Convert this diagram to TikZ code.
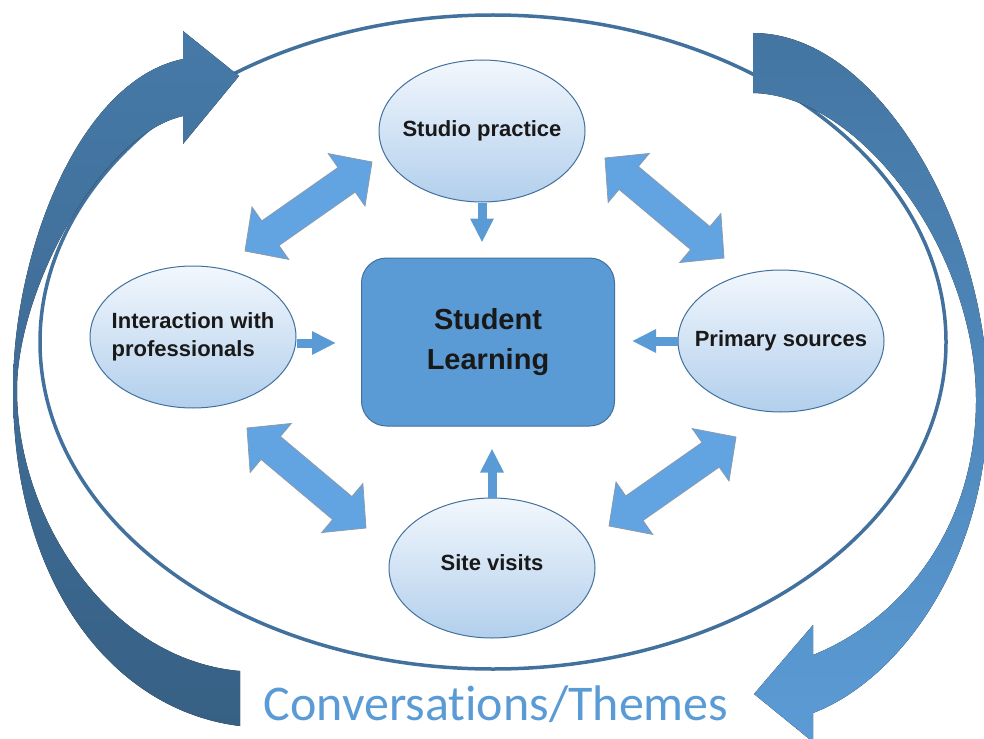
\documentclass[tikz,border=0pt]{standalone}
\usepackage{fontspec}
\usetikzlibrary{arrows.meta,calc,shapes.geometric}
\setmainfont{Liberation Sans}
\newfontfamily\themefont{Carlito}[Ligatures=NoCommon]
\definecolor{ringblue}{HTML}{41719C}
\definecolor{boxblue}{HTML}{5B9BD5}
\definecolor{wayblue}{HTML}{62A3E1}
\definecolor{wayedge}{HTML}{8A9BAE}
\definecolor{bubbletop}{HTML}{F2F7FD}
\definecolor{bubblebottom}{HTML}{B2CFEC}
\newcommand{\headLen}{31pt}
\newcommand{\headHalf}{32pt}
\newcommand{\shaftHalf}{15pt}
% block arrow with a head at both ends, tip to tip
\newcommand{\twoway}[2]{%
  \filldraw[twoway] (#1)
    -- ($(#1)!\headLen!(#2)!\headHalf!90:(#2)$)
    -- ($(#1)!\headLen!(#2)!\shaftHalf!90:(#2)$)
    -- ($(#2)!\headLen!(#1)!\shaftHalf!-90:(#1)$)
    -- ($(#2)!\headLen!(#1)!\headHalf!-90:(#1)$)
    -- (#2)
    -- ($(#2)!\headLen!(#1)!\headHalf!90:(#1)$)
    -- ($(#2)!\headLen!(#1)!\shaftHalf!90:(#1)$)
    -- ($(#1)!\headLen!(#2)!\shaftHalf!-90:(#2)$)
    -- ($(#1)!\headLen!(#2)!\headHalf!-90:(#2)$)
    -- cycle;}

\begin{document}
\begin{tikzpicture}[x=1pt,y=-1pt]
  \tikzset{bubble/.style={ellipse,draw=ringblue,line width=1pt,
      top color=bubbletop,bottom color=bubblebottom,
      minimum width=206pt,minimum height=142pt,inner xsep=-40pt,inner ysep=0pt,
      font=\fontsize{22}{28}\selectfont\bfseries,text=black!90},
    learnbox/.style={rectangle,rounded corners=25pt,draw=ringblue,line width=1pt,
      fill=boxblue,minimum width=253pt,minimum height=168pt,align=center,
      font=\fontsize{29}{40}\selectfont\bfseries,text=black!90},
    feed/.style={draw=boxblue,line width=9pt,-{Triangle[length=24pt,width=22pt]}},
    twoway/.style={fill=wayblue,draw=wayedge,line width=0.8pt,line join=miter},
    ring/.style={draw=ringblue,line width=3.5pt}}
  \useasboundingbox (0,0) rectangle (984,738);

  \draw[ring] (493,342) ellipse [x radius=453pt, y radius=327pt];

  % sweeping arrows round the outside
  \fill[top color=ringblue!80!boxblue,bottom color=ringblue!85!black]
    (240,726) .. controls (110,710) and (13,580) .. (13,390)
    .. controls (13,250) and (80,80) .. (183,59)
    -- (183,31) -- (239,76) -- (183,144) -- (183,116)
    .. controls (100,135) and (17,290) .. (17,390)
    .. controls (17,520) and (110,660) .. (240,671) -- cycle;
  \fill[top color=ringblue!90!boxblue,bottom color=boxblue]
    (753,33) .. controls (880,33) and (988,230) .. (988,400)
    .. controls (988,560) and (900,680) .. (813,713)
    -- (813,742) -- (754,694) -- (813,625) -- (813,655)
    .. controls (900,620) and (976,530) .. (976,400)
    .. controls (976,250) and (860,95) .. (753,93) -- cycle;

  \node[learnbox] (learn) at (488,342) {Student\\Learning};
  \node[bubble] (studio) at (482,131) {Studio practice};
  \node[bubble,align=left] (inter) at (193,337) {Interaction with\\professionals};
  \node[bubble] (prim) at (781,341) {Primary sources};
  \node[bubble,minimum height=140pt,text depth=10pt] (site) at (492,568) {Site visits};

  \draw[feed,shorten >=15pt] (studio) -- (studio |- learn.north);
  \draw[feed,shorten >=25pt] ([yshift=-6pt]inter.east) -- ([yshift=-6pt]inter.east -| learn.west);
  \draw[feed,shorten >=17pt] (prim.west) -- (prim.west -| learn.east);
  \draw[feed,shorten >=22pt] (site) -- (site |- learn.south);

  \coordinate (ul-a) at (245,251); \coordinate (ul-b) at (372,162);
  \coordinate (ur-a) at (605,158); \coordinate (ur-b) at (724,258);
  \coordinate (ll-a) at (247,428); \coordinate (ll-b) at (366,528);
  \coordinate (lr-a) at (609,526); \coordinate (lr-b) at (736,437);
  \twoway{ul-a}{ul-b}
  \twoway{ur-a}{ur-b}
  \twoway{ll-a}{ll-b}
  \twoway{lr-a}{lr-b}

  \node[anchor=base,font=\themefont\fontsize{50}{60}\selectfont,text=boxblue] (themes)
    at (496,720) {Conversations/Themes};
\end{tikzpicture}
\end{document}
